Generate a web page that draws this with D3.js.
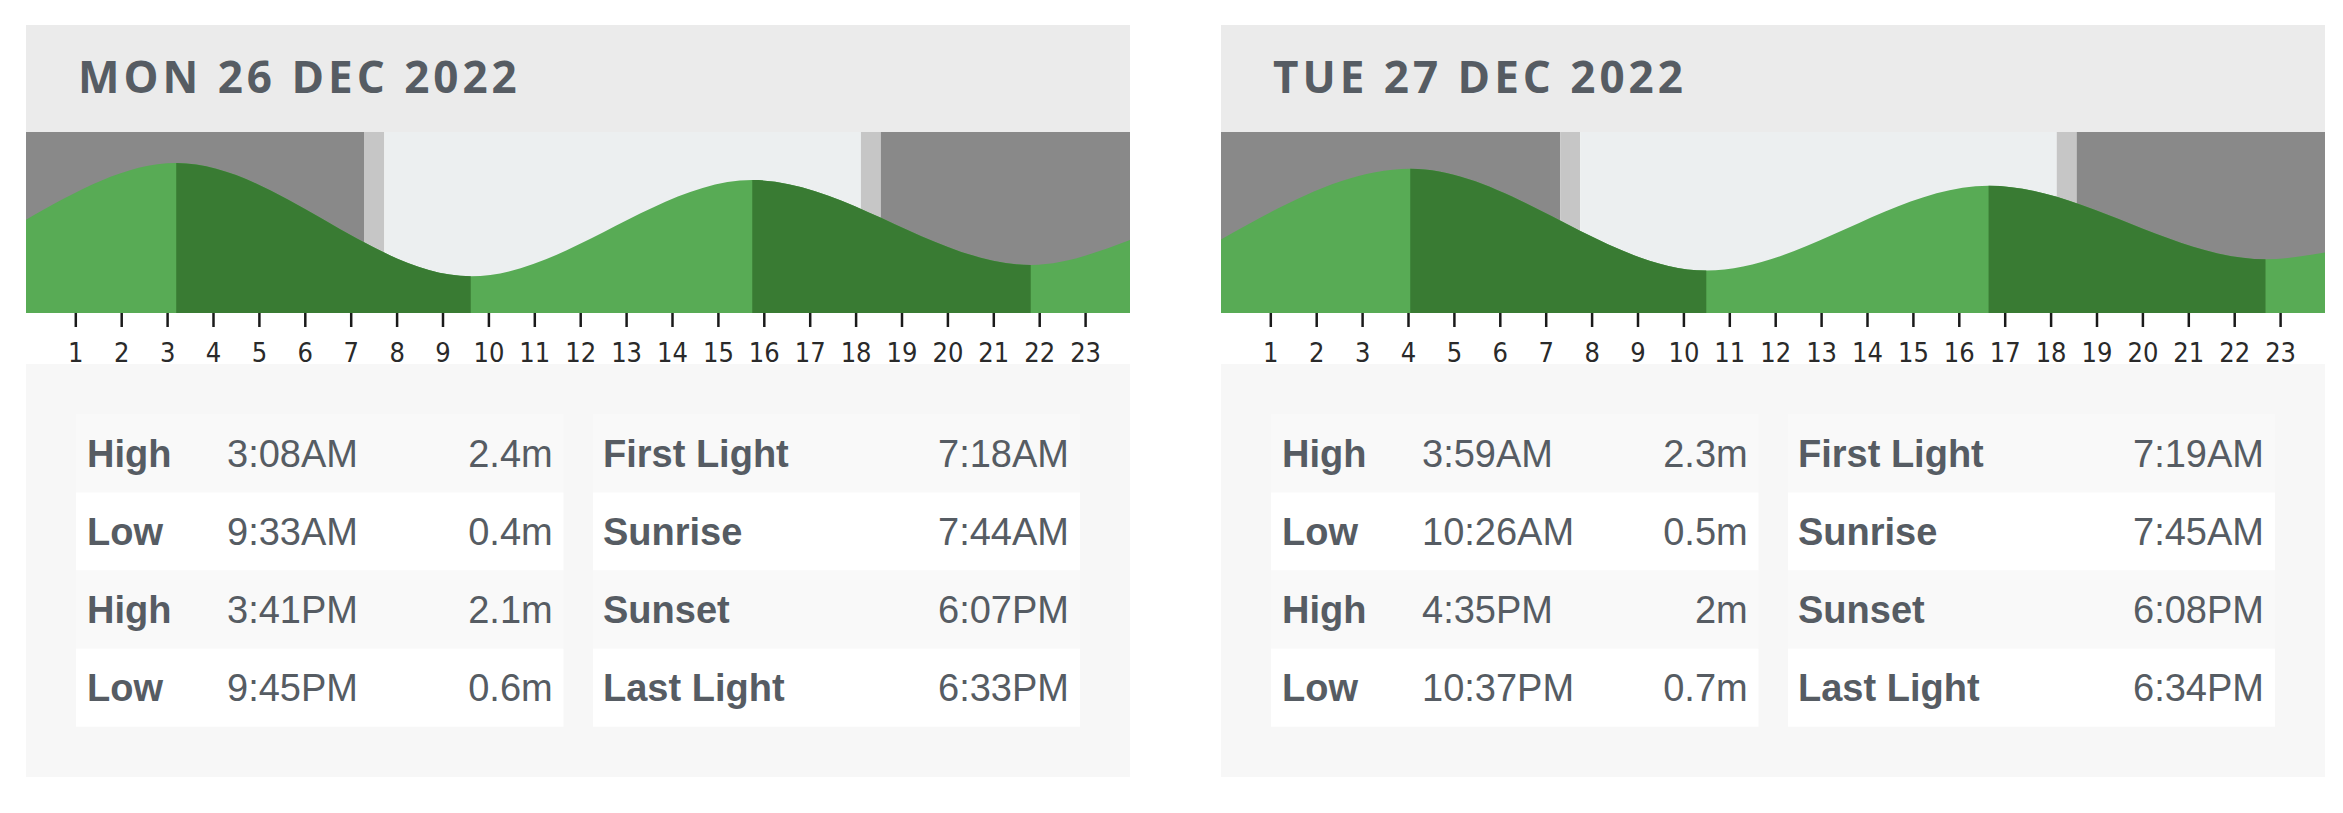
<!DOCTYPE html>
<html>
<head>
<meta charset="utf-8">
<script src="https://cdn.jsdelivr.net/npm/d3@7"></script>
<style>
  body { margin: 0; background: #fff; }
  svg { display: block; }
</style>
</head>
<body>
<svg id="chart" width="2343" height="813"></svg>
<script>
// ---- data ----
const days = ['MON 26 DEC 2022', 'TUE 27 DEC 2022'];
const tideTypes = [['High', 'Low', 'High', 'Low'], ['High', 'Low', 'High', 'Low']];
const tideTimes = [['3:08AM', '9:33AM', '3:41PM', '9:45PM'], ['3:59AM', '10:26AM', '4:35PM', '10:37PM']];
const tideHeights = [[2.4, 0.4, 2.1, 0.6], [2.3, 0.5, 2, 0.7]];
// water level where the curve meets the left / right edge of each panel (metres, estimated)
const edgeLevels = [[1.40, 1.04], [1.05, 0.82]];
const sunLabels = ['First Light', 'Sunrise', 'Sunset', 'Last Light'];
const sunTimes = [['7:18AM', '7:44AM', '6:07PM', '6:33PM'], ['7:19AM', '7:45AM', '6:08PM', '6:34PM']];
const hourTicks = [1, 2, 3, 4, 5, 6, 7, 8, 9, 10, 11, 12, 13, 14, 15, 16, 17, 18, 19, 20, 21, 22, 23];

// ---- layout ----
const panelLeft = [26, 1221];
const panelW = 1104;
const panelTop = 25, chartTop = 132, chartBottom = 313, tableTop = 364, panelBottom = 777;
const rowTop = 414.3, rowH = 78.1;
const textCol = '#565c63';

const toHours = t => {
  const m = t.match(/(\d+):(\d+)(AM|PM)/);
  let h = +m[1] % 12;
  if (m[3] === 'PM') h += 12;
  return h + +m[2] / 60;
};

const y = d3.scaleLinear().domain([-0.25, 2.95]).range([chartBottom, chartTop]);

const svg = d3.select('#chart');

days.forEach((day, i) => {
  const g = svg.append('g').attr('transform', `translate(${panelLeft[i]},0)`);
  const x = d3.scaleLinear().domain([0, 24]).range([3.4, panelW + 1]);
  const xt = d3.scaleLinear().domain([0, 24]).range([6.4, panelW + 4]); // tide layer sits a few px right of ticks

  // header
  g.append('rect')
    .attr('y', panelTop).attr('width', panelW).attr('height', chartTop - panelTop)
    .attr('fill', '#ebebeb');
  g.append('text')
    .attr('x', 52).attr('y', 93)
    .attr('font-family', '"Open Sans", "Noto Sans", sans-serif')
    .attr('font-weight', 700).attr('font-size', 44)
    .attr('letter-spacing', 4)
    .attr('fill', textCol)
    .text(day);

  // chart area
  g.append('clipPath').attr('id', 'clip' + i)
    .append('rect').attr('y', chartTop).attr('width', panelW).attr('height', chartBottom - chartTop);
  const chart = g.append('g').attr('clip-path', `url(#clip${i})`);

  const sun = sunTimes[i].map(toHours);
  const bands = [
    [-1, sun[0], '#898989'],
    [sun[0], sun[1], '#c6c6c6'],
    [sun[1], sun[2], '#eceff0'],
    [sun[2], sun[3], '#c6c6c6'],
    [sun[3], 25, '#898989']
  ];
  chart.selectAll('.sky')
    .data(bands)
    .enter()
    .append('rect')
    .classed('sky', true)
    .attr('x', d => x(d[0]))
    .attr('width', d => x(d[1]) - x(d[0]))
    .attr('y', chartTop)
    .attr('height', chartBottom - chartTop)
    .attr('fill', d => d[2]);

  const tides = tideTimes[i].map((t, j) => [toHours(t), tideHeights[i][j], tideTypes[i][j]]);
  const pts = [[xt.invert(0), edgeLevels[i][0]], ...tides, [xt.invert(panelW), edgeLevels[i][1]]];
  const area = d3.area()
    .x(d => xt(d[0]))
    .y0(chartBottom)
    .y1(d => y(d[1]))
    .curve(d3.curveMonotoneX);

  chart.append('path').datum(pts).attr('d', area).attr('fill', '#58ab55');

  // falling tide (high -> next low) in dark green
  const falling = [];
  tides.forEach((d, j) => {
    if (d[2] === 'High') falling.push([d[0], j + 1 < tides.length ? tides[j + 1][0] : 25]);
  });
  g.append('clipPath').attr('id', 'fall' + i)
    .selectAll('rect')
    .data(falling)
    .enter()
    .append('rect')
    .attr('x', d => xt(d[0]))
    .attr('width', d => xt(d[1]) - xt(d[0]))
    .attr('y', chartTop)
    .attr('height', chartBottom - chartTop);
  chart.append('path').datum(pts).attr('d', area)
    .attr('fill', '#397b33')
    .attr('clip-path', `url(#fall${i})`);

  // hour axis
  g.append('g')
    .attr('transform', `translate(0,${chartBottom})`)
    .call(d3.axisBottom(x).tickValues(hourTicks).tickSize(14).tickPadding(16))
    .call(a => a.select('.domain').remove())
    .call(a => a.selectAll('line').attr('stroke', '#1a1a1a').attr('stroke-width', 2.5))
    .call(a => a.selectAll('text')
      .attr('font-size', 27)
      .attr('font-family', '"Liberation Sans Narrow", "DejaVu Sans Condensed", "Liberation Sans", sans-serif')
      .attr('fill', '#2a2a2a'));

  // table
  g.append('rect')
    .attr('y', tableTop).attr('width', panelW).attr('height', panelBottom - tableTop)
    .attr('fill', '#f7f7f7');

  const rows = [0, 1, 2, 3];
  [[50, 487.5], [567, 487]].forEach(([tx, tw], c) => {
    g.selectAll('.row' + c)
      .data(rows)
      .enter()
      .append('rect')
      .attr('x', tx).attr('width', tw)
      .attr('y', r => rowTop + r * rowH).attr('height', rowH)
      .attr('fill', r => r % 2 ? '#ffffff' : '#f9f9f9');
  });

  const baseline = r => rowTop + r * rowH + 52.4;
  const cell = (sel) => sel
    .attr('font-family', '"Liberation Sans", Arial, sans-serif')
    .attr('font-size', 38)
    .attr('fill', textCol);

  // tides table
  g.selectAll('.tlabel').data(tides).enter().append('text')
    .call(cell).attr('font-weight', 700)
    .attr('x', 61).attr('y', (d, r) => baseline(r))
    .text(d => d[2]);
  g.selectAll('.ttime').data(tideTimes[i]).enter().append('text')
    .call(cell)
    .attr('x', 201).attr('y', (d, r) => baseline(r))
    .text(d => d);
  g.selectAll('.theight').data(tideHeights[i]).enter().append('text')
    .call(cell)
    .attr('x', 526.7).attr('y', (d, r) => baseline(r))
    .attr('text-anchor', 'end')
    .text(d => d + 'm');

  // sun table
  g.selectAll('.slabel').data(sunLabels).enter().append('text')
    .call(cell).attr('font-weight', 700)
    .attr('x', 577).attr('y', (d, r) => baseline(r))
    .text(d => d);
  g.selectAll('.stime').data(sunTimes[i]).enter().append('text')
    .call(cell)
    .attr('x', 1043).attr('y', (d, r) => baseline(r))
    .attr('text-anchor', 'end')
    .text(d => d);
});
</script>
</body>
</html>
